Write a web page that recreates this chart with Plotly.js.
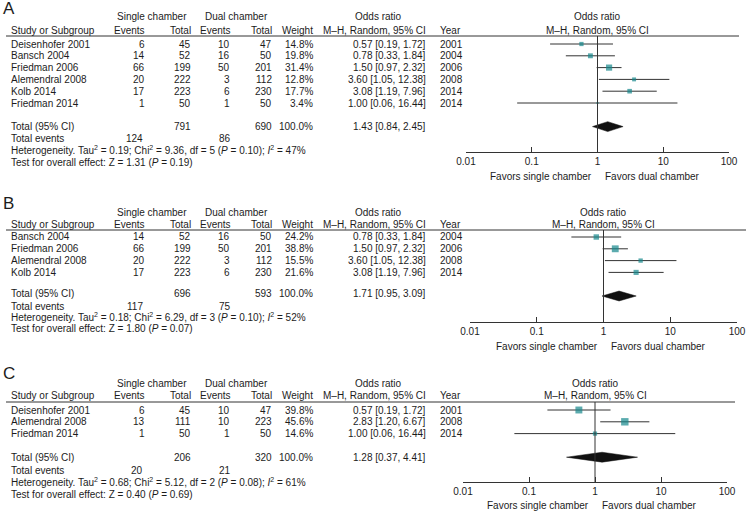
<!DOCTYPE html>
<html><head><meta charset="utf-8">
<script src="https://cdn.plot.ly/plotly-3.0.1.min.js"></script>
<style>html,body{margin:0;padding:0;background:#fff}#chart{width:746px;height:511px}</style>
</head><body><div id="chart"></div>
<script>
// ---------------- DATA ----------------
// Panel A
const A_study  = ['Deisenhofer 2001','Bansch 2004','Friedman 2006','Alemendral 2008','Kolb 2014','Friedman 2014'];
const A_sEv    = [6, 14, 66, 20, 17, 1];
const A_sTot   = [45, 52, 199, 222, 223, 50];
const A_dEv    = [10, 16, 50, 3, 6, 1];
const A_dTot   = [47, 50, 201, 112, 230, 50];
const A_weight = [14.8, 19.8, 31.4, 12.8, 17.7, 3.4];
const A_or     = [0.57, 0.78, 1.50, 3.60, 3.08, 1.00];
const A_lo     = [0.19, 0.33, 0.97, 1.05, 1.19, 0.06];
const A_hi     = [1.72, 1.84, 2.32, 12.38, 7.96, 16.44];
const A_year   = [2001, 2004, 2006, 2008, 2014, 2014];
const A_totN   = [791, 690];          // single, dual totals
const A_totW   = 100.0;               // total weight %
const A_totEv  = [124, 86];           // single, dual events
const A_pooled = [1.43, 0.84, 2.45];  // OR, lo, hi
const A_het    = ['0.19', '9.36', '5', '0.10', '47'];  // Tau2, Chi2, df, P, I2
const A_test   = ['1.31', '0.19'];    // Z, P

// Panel B
const B_study  = ['Bansch 2004','Friedman 2006','Alemendral 2008','Kolb 2014'];
const B_sEv    = [14, 66, 20, 17];
const B_sTot   = [52, 199, 222, 223];
const B_dEv    = [16, 50, 3, 6];
const B_dTot   = [50, 201, 112, 230];
const B_weight = [24.2, 38.8, 15.5, 21.6];
const B_or     = [0.78, 1.50, 3.60, 3.08];
const B_lo     = [0.33, 0.97, 1.05, 1.19];
const B_hi     = [1.84, 2.32, 12.38, 7.96];
const B_year   = [2004, 2006, 2008, 2014];
const B_totN   = [696, 593];
const B_totW   = 100.0;
const B_totEv  = [117, 75];
const B_pooled = [1.71, 0.95, 3.09];
const B_het    = ['0.18', '6.29', '3', '0.10', '52'];
const B_test   = ['1.80', '0.07'];

// Panel C
const C_study  = ['Deisenhofer 2001','Alemendral 2008','Friedman 2014'];
const C_sEv    = [6, 13, 1];
const C_sTot   = [45, 111, 50];
const C_dEv    = [10, 10, 1];
const C_dTot   = [47, 223, 50];
const C_weight = [39.8, 45.6, 14.6];
const C_or     = [0.57, 2.83, 1.00];
const C_lo     = [0.19, 1.20, 0.06];
const C_hi     = [1.72, 6.67, 16.44];
const C_year   = [2001, 2008, 2014];
const C_totN   = [206, 320];
const C_totW   = 100.0;
const C_totEv  = [20, 21];
const C_pooled = [1.28, 0.37, 4.41];
const C_het    = ['0.68', '5.12', '2', '0.08', '61'];
const C_test   = ['0.40', '0.69'];

const tickVals = [0.01, 0.1, 1, 10, 100];
const tickText = ['0.01', '0.1', '1', '10', '100'];

// ---------------- LAYOUT HELPERS ----------------
const W = 746, H = 511;
const px = x => x / W;
const py = y => 1 - y / H;
const FONT = 'Liberation Sans, Arial, Helvetica, sans-serif';
const TXT = '#1c1c1c';
const LINE = '#333333';
const TEAL = '#16878c';
const SP = 11.8; // row spacing in px

const panels = [
  {lab:'A', study:A_study, sEv:A_sEv, sTot:A_sTot, dEv:A_dEv, dTot:A_dTot, w:A_weight, or:A_or, lo:A_lo, hi:A_hi, year:A_year,
   totN:A_totN, totW:A_totW, totEv:A_totEv, pooled:A_pooled, het:A_het, test:A_test,
   geo:{labelY:8, h1:17, h2:30, top:36, row0:44, axis:152, ax:[466,729], lineR:739, tot:126, foot:[138,150,162], fav:176}},
  {lab:'B', study:B_study, sEv:B_sEv, sTot:B_sTot, dEv:B_dEv, dTot:B_dTot, w:B_weight, or:B_or, lo:B_lo, hi:B_hi, year:B_year,
   totN:B_totN, totW:B_totW, totEv:B_totEv, pooled:B_pooled, het:B_het, test:B_test,
   geo:{labelY:203, h1:213, h2:225, top:230, row0:237, axis:322, ax:[470,737], lineR:746, tot:293, foot:[306,317,328], fav:346}},
  {lab:'C', study:C_study, sEv:C_sEv, sTot:C_sTot, dEv:C_dEv, dTot:C_dTot, w:C_weight, or:C_or, lo:C_lo, hi:C_hi, year:C_year,
   totN:C_totN, totW:C_totW, totEv:C_totEv, pooled:C_pooled, het:C_het, test:C_test,
   geo:{labelY:373, h1:383, h2:395, top:402, row0:410, axis:482, ax:[463,727], lineR:735, tot:457, foot:[470,482,494], fav:505}}
];

// column anchors (px)
const COL = {study:9, sEv:147, sTot:193, dEv:232, dTot:274, wt:315, or:428, year:438, sHead:115, dHead:203, orHead:353};

const traces = [];
const annotations = [];
const shapes = [];
const layout = {
  width: W, height: H, margin:{l:0, r:0, t:0, b:0},
  paper_bgcolor:'#fff', plot_bgcolor:'rgba(0,0,0,0)',
  showlegend:false, font:{family:FONT, size:10, color:TXT},
  annotations, shapes
};

function txt(x, y, text, anchor, extra) {
  annotations.push(Object.assign({xref:'paper', yref:'paper', x:px(x), y:py(y), text:String(text),
    showarrow:false, xanchor:anchor, yanchor:'middle', font:{family:FONT, size:10, color:TXT}}, extra||{}));
}
const f2 = v => v.toFixed(2);

panels.forEach((p, k) => {
  const g = p.geo;
  const sfx = k === 0 ? '' : String(k + 1);
  const xa = 'x' + sfx, ya = 'y' + sfx;
  const n = p.study.length;
  const totRow = n + 1;
  const yTop = -(g.row0 - g.top) / SP;
  const yBot = (g.axis - g.row0) / SP;

  layout['xaxis' + sfx] = {
    type:'log', range:[-2, 2], domain:[px(g.ax[0]), px(g.ax[1])], anchor:ya,
    tickvals:tickVals, ticktext:tickText, ticks:'inside', ticklen:5, tickcolor:LINE, tickwidth:1,
    showline:true, linecolor:LINE, linewidth:1, showgrid:false, zeroline:false,
    tickfont:{family:FONT, size:10, color:TXT}, fixedrange:true
  };
  layout['yaxis' + sfx] = {
    domain:[py(g.axis), py(g.top)], range:[yBot, yTop], anchor:xa, visible:false, fixedrange:true
  };

  // panel letter
  annotations.push({xref:'paper', yref:'paper', x:px(1), y:py(g.labelY), text:p.lab, showarrow:false,
    xanchor:'left', yanchor:'middle', font:{family:FONT, size:17, color:TXT}});

  // header row 1
  txt(COL.sHead, g.h1, 'Single chamber', 'left');
  txt(COL.dHead, g.h1, 'Dual chamber', 'left');
  txt(COL.orHead, g.h1, 'Odds ratio', 'left');
  // header row 2
  txt(COL.study, g.h2, 'Study or Subgroup', 'left');
  txt(COL.sEv, g.h2, 'Events', 'right');
  txt(COL.sTot, g.h2, 'Total', 'right');
  txt(COL.dEv + 1, g.h2, 'Events', 'right');
  txt(COL.dTot, g.h2, 'Total', 'right');
  txt(COL.wt, g.h2, 'Weight', 'right');
  txt(COL.or, g.h2, 'M\u2013H, Random, 95% CI', 'right');
  txt(COL.year, g.h2, 'Year', 'left');

  // plot headers centered on OR = 1
  annotations.push({xref:xa, yref:'paper', x:0, y:py(g.h1), text:'Odds ratio', showarrow:false,
    xanchor:'center', yanchor:'middle', font:{family:FONT, size:10, color:TXT}});
  annotations.push({xref:xa, yref:'paper', x:0, y:py(g.h2), text:'M\u2013H, Random, 95% CI', showarrow:false,
    xanchor:'center', yanchor:'middle', font:{family:FONT, size:10, color:TXT}});

  // header rule
  shapes.push({type:'line', xref:'paper', yref:'paper', x0:px(6), x1:px(g.lineR), y0:py(g.top), y1:py(g.top),
    line:{color:LINE, width:1}});
  // line of no effect
  shapes.push({type:'line', xref:xa, yref:ya + ' domain', x0:1, x1:1, y0:0, y1:1, line:{color:LINE, width:1}});

  // study rows
  for (let i = 0; i < n; i++) {
    const y = g.row0 + i * SP;
    txt(COL.study, y, p.study[i], 'left');
    txt(COL.sEv, y, p.sEv[i], 'right');
    txt(COL.sTot, y, p.sTot[i], 'right');
    txt(COL.dEv, y, p.dEv[i], 'right');
    txt(COL.dTot, y, p.dTot[i], 'right');
    txt(COL.wt, y, p.w[i].toFixed(1) + '%', 'right');
    txt(COL.or, y, f2(p.or[i]) + ' [' + f2(p.lo[i]) + ', ' + f2(p.hi[i]) + ']', 'right');
    txt(COL.year, y, p.year[i], 'left');
  }
  // total row
  txt(COL.study, g.tot, 'Total (95% CI)', 'left');
  txt(COL.sTot, g.tot, p.totN[0], 'right');
  txt(COL.dTot, g.tot, p.totN[1], 'right');
  txt(COL.wt, g.tot, p.totW.toFixed(1) + '%', 'right');
  txt(COL.or, g.tot, f2(p.pooled[0]) + ' [' + f2(p.pooled[1]) + ', ' + f2(p.pooled[2]) + ']', 'right');
  // footer
  txt(COL.study, g.foot[0], 'Total events', 'left');
  txt(COL.sEv - 2, g.foot[0], p.totEv[0], 'right');
  txt(COL.dEv + 1, g.foot[0], p.totEv[1], 'right');
  const h = p.het;
  txt(COL.study, g.foot[1], 'Heterogeneity. Tau<sup>2</sup> = ' + h[0] + '; Chi<sup>2</sup> = ' + h[1] + ', df = ' + h[2] +
      ' (<i>P</i> = ' + h[3] + '); <i>I</i><sup>2</sup> = ' + h[4] + '%', 'left');
  txt(COL.study, g.foot[2], 'Test for overall effect: Z = ' + p.test[0] + ' (<i>P</i> = ' + p.test[1] + ')', 'left');

  // favours labels
  annotations.push({xref:xa, yref:'paper', x:0, y:py(g.fav), text:'Favors single chamber', showarrow:false,
    xanchor:'right', yanchor:'middle', xshift:-4, font:{family:FONT, size:10, color:TXT}});
  annotations.push({xref:xa, yref:'paper', x:0, y:py(g.fav), text:'Favors dual chamber', showarrow:false,
    xanchor:'left', yanchor:'middle', xshift:5, font:{family:FONT, size:10, color:TXT}});

  // CI whiskers
  const cx = [], cy = [];
  for (let i = 0; i < n; i++) { cx.push(p.lo[i], p.hi[i], null); cy.push(i, i, null); }
  traces.push({type:'scatter', mode:'lines', x:cx, y:cy, xaxis:xa, yaxis:ya,
    line:{color:LINE, width:1}, hoverinfo:'skip', cliponaxis:false});
  // weight squares
  traces.push({type:'scatter', mode:'markers', x:p.or, y:p.study.map((_, i) => i), xaxis:xa, yaxis:ya,
    marker:{symbol:'square', color:TEAL, size:p.w.map(v => Math.max(2, 1.1 * Math.sqrt(v))), line:{width:0}},
    hoverinfo:'skip', cliponaxis:false});
  // pooled diamond
  const dh = 0.42;
  traces.push({type:'scatter', mode:'lines', xaxis:xa, yaxis:ya,
    x:[p.pooled[1], p.pooled[0], p.pooled[2], p.pooled[0], p.pooled[1]],
    y:[totRow, totRow - dh, totRow, totRow + dh, totRow],
    fill:'toself', fillcolor:'#111111', line:{color:'#111111', width:0.5}, hoverinfo:'skip', cliponaxis:false});
});

Plotly.newPlot('chart', traces, layout, {staticPlot:true, displayModeBar:false});
</script>
</body></html>
